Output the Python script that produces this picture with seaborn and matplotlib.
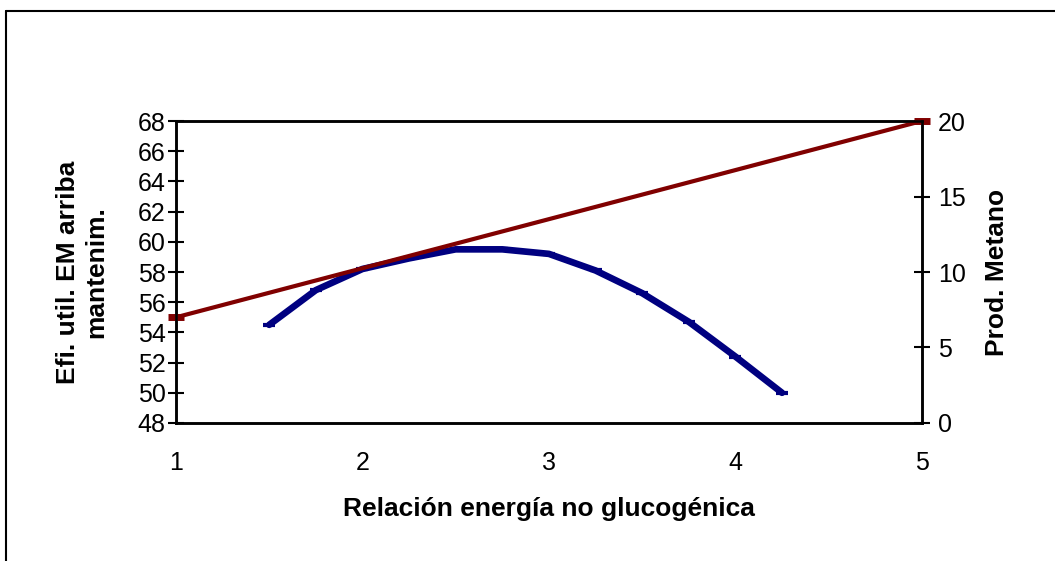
import matplotlib
matplotlib.use("Agg")
import matplotlib.pyplot as plt
import seaborn as sns
import pandas as pd
from matplotlib.lines import Line2D

sns.set_theme(style="white")
plt.rcParams["font.family"] = ["Liberation Sans", "DejaVu Sans"]
plt.rcParams["text.color"] = "black"
plt.rcParams["axes.labelcolor"] = "black"
plt.rcParams["xtick.color"] = "black"
plt.rcParams["ytick.color"] = "black"

# -------------------------------
# DATA
# -------------------------------
ratio_x = [1.5, 1.75, 2.0, 2.25, 2.5, 2.75, 3.0, 3.25, 3.5, 3.75, 4.0, 4.25]
eficiencia = [54.5, 56.8, 58.2, 58.9, 59.5, 59.5, 59.2, 58.1, 56.6, 54.7, 52.4, 50.0]

metano_x = [1, 5]
metano = [7, 20]

x_ticks = [1, 2, 3, 4, 5]
left_ticks = list(range(48, 69, 2))
right_ticks = [0, 5, 10, 15, 20]

BLUE = "#000080"
RED = "#800000"

df_ef = pd.DataFrame({"x": ratio_x, "y": eficiencia})
df_me = pd.DataFrame({"x": metano_x, "y": metano})

fig = plt.figure(figsize=(10.55, 5.61), dpi=100)
ax = fig.add_axes([0.1668, 0.246, 0.707, 0.5383])
ax2 = ax.twinx()

sns.lineplot(data=df_ef, x="x", y="y", ax=ax, color=BLUE, linewidth=4.8,
             marker="_", markersize=9, markeredgewidth=3, markeredgecolor=BLUE,
             zorder=3)
sns.lineplot(data=df_me, x="x", y="y", ax=ax2, color=RED, linewidth=3,
             marker="_", markersize=12, markeredgewidth=5, markeredgecolor=RED,
             clip_on=False)

ax.set_xlim(1, 5)
ax.set_ylim(48, 68)
ax2.set_ylim(0, 20)
ax.set_xticks(x_ticks)
ax.set_yticks(left_ticks)
ax2.set_yticks(right_ticks)

for a in (ax, ax2):
    for s in a.spines.values():
        s.set_color("black")
        s.set_linewidth(1.8)

ax.tick_params(axis="y", direction="inout", length=11, width=1.5, color="black",
               labelsize=18, pad=2, left=True)
ax.tick_params(axis="x", length=0, labelsize=18, pad=20)
ax2.tick_params(axis="y", direction="inout", length=11, width=1.5, color="black",
                labelsize=18, pad=6, right=True)

ax.set_xlabel("Relación energía no glucogénica", fontsize=19, fontweight="bold",
              labelpad=16)
ax.set_ylabel("Efi. util. EM arriba\nmantenim.", fontsize=19, fontweight="bold",
              labelpad=21, linespacing=1.25)
ax2.set_ylabel("Prod. Metano", fontsize=19, fontweight="bold", labelpad=14)

# outer chart frame (top and left edges visible)
fig.add_artist(Line2D([0.0057, 1.0], [0.980, 0.980], color="black", linewidth=1.5,
                      transform=fig.transFigure))
fig.add_artist(Line2D([0.0057, 0.0057], [0.0, 0.980], color="black", linewidth=1.5,
                      transform=fig.transFigure))

plt.savefig("out.png", dpi=100)
plt.close()
